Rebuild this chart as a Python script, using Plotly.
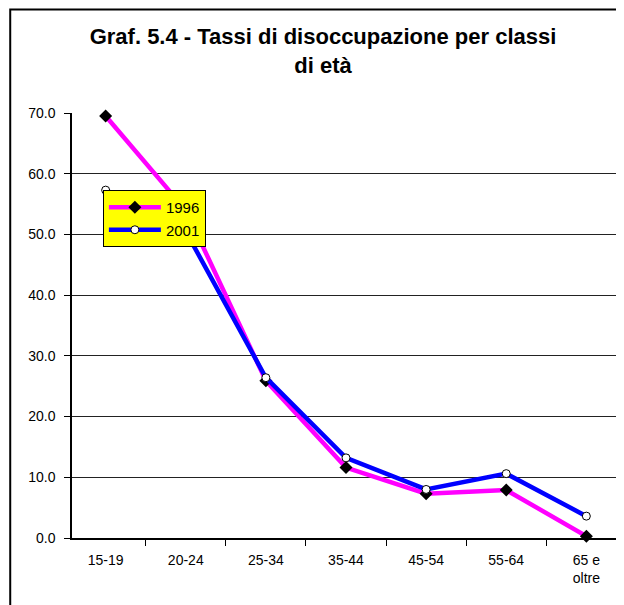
import plotly.graph_objects as go

categories = ["15-19", "20-24", "25-34", "35-44", "45-54", "55-64", "65 e<br>oltre"]
values_1996 = [69.5, 54.0, 25.9, 11.6, 7.3, 7.9, 0.3]
values_2001 = [57.3, 50.5, 26.4, 13.2, 8.0, 10.6, 3.6]
y_ticks = [0, 10, 20, 30, 40, 50, 60, 70]

FONT = "Liberation Sans, Arial, sans-serif"

# figure is drawn inside the page body (8px default margin)
W, H = 616, 597
L, R, T, B = 64, 2, 105, 67
PW, PH = W - L - R, H - T - B


def px_x(x):
    return (x - L) / PW


def px_y(y):
    return (H - B - y) / PH


fig = go.Figure()
fig.add_trace(go.Scatter(
    x=categories, y=values_1996, name="1996", mode="lines+markers",
    line=dict(color="#FF00FF", width=4.5),
    marker=dict(symbol="diamond", size=10, color="black", line=dict(color="black", width=0)),
    cliponaxis=False,
))
fig.add_trace(go.Scatter(
    x=categories, y=values_2001, name="2001", mode="lines+markers",
    line=dict(color="#0000FF", width=4.5),
    marker=dict(symbol="circle", size=8, color="white", line=dict(color="black", width=1)),
    cliponaxis=False,
))

fig.update_layout(
    width=W, height=H,
    margin=dict(l=L, r=R, t=T, b=B),
    paper_bgcolor="white", plot_bgcolor="white",
    font=dict(family=FONT, size=14, color="black"),
    title=dict(
        text="<b>Graf. 5.4 - Tassi di disoccupazione per classi<br>di età</b>",
        x=315 / W, xanchor="center", xref="container",
        y=1 - 36 / H, yanchor="top", yref="container",
        font=dict(family=FONT, size=22, color="black"),
    ),
    showlegend=True,
    legend=dict(
        x=px_x(95), y=px_y(182), xanchor="left", yanchor="top",
        bgcolor="#FFFF00", bordercolor="black", borderwidth=1,
        font=dict(family=FONT, size=15, color="black"),
        itemwidth=52, tracegroupgap=0,
    ),
    xaxis=dict(
        type="category", tickson="boundaries", ticks="outside", ticklen=6,
        tickcolor="black", showline=True, linecolor="black", linewidth=1.5,
        showgrid=False, tickfont=dict(size=14), ticklabelstandoff=8,
    ),
    yaxis=dict(
        range=[0, 70], tickvals=y_ticks, tickformat=".1f",
        ticks="outside", ticklen=6, tickcolor="black",
        showline=True, linecolor="black", linewidth=1.5, mirror=True,
        showgrid=True, gridcolor="#222222", gridwidth=1,
        zeroline=False, tickfont=dict(size=14), ticklabelstandoff=6,
    ),
    shapes=[dict(
        type="rect", xref="paper", yref="paper",
        x0=px_x(2), x1=px_x(640),
        y0=px_y(620), y1=px_y(1.5),
        line=dict(color="black", width=2), fillcolor="rgba(0,0,0,0)",
        layer="below",
    )],
)

fig.write_html("out.html")
